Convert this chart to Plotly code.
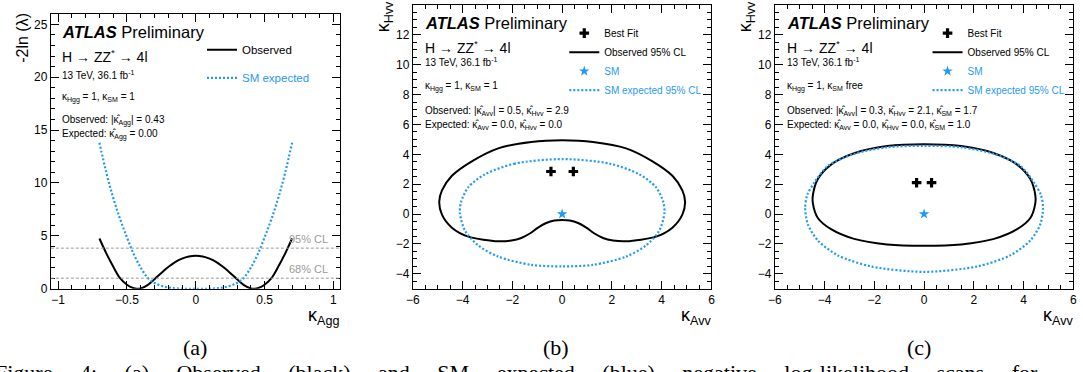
import plotly.graph_objects as go

W, H = 1083, 372
def px(x):
    return x / W
def py(y):
    return 1 - y / H

BLUE = "#1f9af5"
GREY = "#9a9a9a"
SANS = "Liberation Sans"
SERIF = "Liberation Serif"

# ---------------- data: panel (a) ----------------
kagg_obs = [-0.70, -0.65, -0.60, -0.55, -0.50, -0.45, -0.43, -0.40, -0.35, -0.30, -0.25, -0.20, -0.15, -0.10, -0.05,
            0.00, 0.05, 0.10, 0.15, 0.20, 0.25, 0.30, 0.35, 0.40, 0.43, 0.45, 0.50, 0.55, 0.60, 0.65, 0.70]
nll_obs = [4.75, 3.35, 2.10, 1.00, 0.38, 0.05, 0.00, 0.03, 0.35, 0.90, 1.50, 2.05, 2.52, 2.85, 3.05,
           3.12, 3.05, 2.85, 2.52, 2.05, 1.50, 0.90, 0.35, 0.03, 0.00, 0.05, 0.38, 1.00, 2.10, 3.35, 4.75]
kagg_exp = [-0.70, -0.65, -0.60, -0.55, -0.50, -0.45, -0.40, -0.35, -0.30, -0.25, -0.20, -0.15, -0.10, -0.05,
            0.00, 0.05, 0.10, 0.15, 0.20, 0.25, 0.30, 0.35, 0.40, 0.45, 0.50, 0.55, 0.60, 0.65, 0.70]
nll_exp = [13.8, 11.0, 8.6, 6.6, 4.85, 3.25, 2.0, 1.05, 0.55, 0.28, 0.12, 0.04, 0.01, 0.0,
           0.0, 0.0, 0.01, 0.04, 0.12, 0.28, 0.55, 1.05, 2.0, 3.25, 4.85, 6.6, 8.6, 11.0, 13.8]
cl_levels = [3.84, 1.0]
cl_labels = ["95% CL", "68% CL"]

# ---------------- data: panel (b) ----------------
b_obs_x = [0.00, -1.24, -2.57, -3.63, -4.43, -4.83, -4.94, -4.83, -4.43, -3.77, -2.57, -2.04, -1.64, -1.30,
           -0.97, -0.64, -0.31, 0.00, 0.31, 0.64, 0.97, 1.30, 1.64, 2.04, 2.57, 3.77, 4.43, 4.83, 4.94, 4.83,
           4.43, 3.63, 2.57, 1.24, 0.00]
b_obs_y = [4.94, 4.83, 4.40, 3.53, 2.56, 1.58, 0.82, -0.04, -0.91, -1.51, -1.82, -1.77, -1.60, -1.30,
           -0.91, -0.60, -0.43, -0.39, -0.43, -0.60, -0.91, -1.30, -1.60, -1.77, -1.82, -1.51, -0.91, -0.04, 0.82, 1.58,
           2.56, 3.53, 4.40, 4.83, 4.94]
b_exp_x = [0.00, -1.90, -3.10, -3.77, -4.06, -4.11, -3.90, -3.37, -2.57, -1.24, 0.00,
           1.24, 2.57, 3.37, 3.90, 4.11, 4.06, 3.77, 3.10, 1.90, 0.00]
b_exp_y = [3.68, 3.38, 2.66, 1.80, 0.82, 0.07, -1.12, -2.10, -2.85, -3.40, -3.50,
           -3.40, -2.85, -2.10, -1.12, 0.07, 0.82, 1.80, 2.66, 3.38, 3.68]
b_best_x = [-0.45, 0.45]
b_best_y = [2.85, 2.85]

# ---------------- data: panel (c) ----------------
c_obs_x = [0.00, -1.49, -2.81, -3.74, -4.27, -4.47, -4.47, -4.27, -3.74, -2.81, -1.49, 0.00,
           1.49, 2.81, 3.74, 4.27, 4.47, 4.47, 4.27, 3.74, 2.81, 1.49, 0.00]
c_obs_y = [4.68, 4.55, 4.07, 3.31, 2.34, 1.26, 0.72, -0.26, -1.01, -1.66, -2.03, -2.12,
           -2.03, -1.66, -1.01, -0.26, 0.72, 1.26, 2.34, 3.31, 4.07, 4.55, 4.68]
c_exp_x = [0.00, -1.49, -2.81, -3.88, -4.41, -4.70, -4.78, -4.67, -4.27, -3.48, -2.15, 0.00,
           2.15, 3.48, 4.27, 4.67, 4.78, 4.70, 4.41, 3.88, 2.81, 1.49, 0.00]
c_exp_y = [4.57, 4.47, 4.03, 3.21, 2.12, 1.26, 0.39, -0.69, -1.77, -2.75, -3.50, -3.87,
           -3.50, -2.75, -1.77, -0.69, 0.39, 1.26, 2.12, 3.21, 4.03, 4.47, 4.57]
c_best_x = [-0.30, 0.30]
c_best_y = [2.10, 2.10]

sm_x = [0.0]
sm_y = [0.0]


def blue_name(s):
    return "<span style='color:" + BLUE + "'>" + s + "</span>"


DOT = "2px,2px"
fig = go.Figure()

# panel (a)
fig.add_trace(go.Scatter(x=kagg_obs, y=nll_obs, mode="lines", name="Observed",
                         line=dict(color="black", width=2, shape="spline"),
                         xaxis="x", yaxis="y", legend="legend", legendgroup="a1"))
fig.add_trace(go.Scatter(x=kagg_exp, y=nll_exp, mode="lines", name=blue_name("SM expected"),
                         line=dict(color=BLUE, width=2.2, dash=DOT, shape="spline"),
                         xaxis="x", yaxis="y", legend="legend", legendgroup="a2"))

# panels (b) and (c)
for ax, lg, bx_, by_, ox, oy, ex, ey in [
    ("2", "legend2", b_best_x, b_best_y, b_obs_x, b_obs_y, b_exp_x, b_exp_y),
    ("3", "legend3", c_best_x, c_best_y, c_obs_x, c_obs_y, c_exp_x, c_exp_y),
]:
    fig.add_trace(go.Scatter(x=bx_, y=by_, mode="markers", name="Best Fit",
                             marker=dict(symbol="cross", size=8, color="black"),
                             xaxis="x" + ax, yaxis="y" + ax, legend=lg))
    fig.add_trace(go.Scatter(x=ox, y=oy, mode="lines", name="Observed 95% CL",
                             line=dict(color="black", width=2, shape="spline", smoothing=0.8),
                             xaxis="x" + ax, yaxis="y" + ax, legend=lg))
    fig.add_trace(go.Scatter(x=sm_x, y=sm_y, mode="markers", name=blue_name("SM"),
                             marker=dict(symbol="star", size=8, color=BLUE),
                             xaxis="x" + ax, yaxis="y" + ax, legend=lg))
    fig.add_trace(go.Scatter(x=ex, y=ey, mode="lines", name=blue_name("SM expected 95% CL"),
                             line=dict(color=BLUE, width=2.2, dash=DOT, shape="spline", smoothing=0.8),
                             xaxis="x" + ax, yaxis="y" + ax, legend=lg))

# CL reference lines in (a)
shapes = []
annotations = []
for lvl, lab in zip(cl_levels, cl_labels):
    shapes.append(dict(type="line", xref="x domain", yref="y", x0=0, x1=1, y0=lvl, y1=lvl,
                       line=dict(color=GREY, width=1, dash="3px,2px")))
    annotations.append(dict(text=lab, xref="x", yref="y", x=0.975, y=lvl, xanchor="right", yanchor="middle",
                            yshift=9, showarrow=False, font=dict(family=SANS, size=11, color=GREY)))


def axis(domain, rng, dtick, mdtick, anchor):
    return dict(domain=domain, range=rng, anchor=anchor, dtick=dtick, tick0=0,
                ticks="inside", ticklen=8, tickwidth=1, tickcolor="black",
                minor=dict(dtick=mdtick, ticks="inside", ticklen=4, tickwidth=1, tickcolor="black"),
                showline=True, linecolor="black", linewidth=1, mirror="allticks",
                showgrid=False, zeroline=False,
                tickfont=dict(family=SANS, size=12, color="black"))


ya_dom = [py(294.3), py(14)]
yb_dom = [py(294.3), py(5)]
fig.update_layout(
    xaxis=axis([px(44.3), px(336)], [-1.053, 1.045], 0.5, 0.1, "y"),
    yaxis=axis(ya_dom, [0, 26], 5, 1, "x"),
    xaxis2=axis([px(410), px(711.7)], [-6, 6], 2, 0.5, "y2"),
    yaxis2=axis(yb_dom, [-5, 14], 2, 0.5, "x2"),
    xaxis3=axis([px(775.7), px(1077.3)], [-6, 6], 2, 0.5, "y3"),
    yaxis3=axis(yb_dom, [-5, 14], 2, 0.5, "x3"),
)


def txt(s, x, y, size, xanchor="left", yanchor="middle", color="black", family=SANS, angle=0):
    annotations.append(dict(text=s, xref="paper", yref="paper", x=px(x), y=py(y), xanchor=xanchor,
                            yanchor=yanchor, showarrow=False, textangle=angle,
                            font=dict(family=family, size=size, color=color)))


KH = "\u03ba\u0302"
K = "\u03ba"
AR = "\u2192"

# panel (a) texts
txt("<b><i>ATLAS</i></b> Preliminary", 54, 32.3, 16.5)
txt("H " + AR + " ZZ<sup>*</sup> " + AR + " 4l", 54, 56.7, 14)
txt("13 TeV, 36.1 fb<sup>-1</sup>", 54, 76, 10)
txt(K + "<sub>Hgg</sub> = 1, " + K + "<sub>SM</sub> = 1", 54, 99, 10)
txt("Observed: |" + KH + "<sub>Agg</sub>| = 0.43", 54, 123.3, 10)
txt("Expected: " + KH + "<sub>Agg</sub> = 0.00", 54, 137.3, 10)
txt("-2ln (\u03bb)", 15.7, 39, 16, xanchor="center", angle=-90)
txt(K + "<sub>Agg</sub>", 337, 309, 18, xanchor="right", yanchor="top")

# panel (b) texts
bx = 420
txt("<b><i>ATLAS</i></b> Preliminary", bx, 23.3, 16.5)
txt("H " + AR + " ZZ<sup>*</sup> " + AR + " 4l", bx, 47.7, 14)
txt("13 TeV, 36.1 fb<sup>-1</sup>", bx, 63.3, 10)
txt(K + "<sub>Hgg</sub> = 1, " + K + "<sub>SM</sub> = 1", bx, 88.3, 10)
txt("Observed: |" + KH + "<sub>Avv</sub>| = 0.5, " + KH + "<sub>Hvv</sub> = 2.9", bx, 113.3, 10)
txt("Expected: " + KH + "<sub>Avv</sub> = 0.0, " + KH + "<sub>Hvv</sub> = 0.0", bx, 127.7, 10)
txt(K + "<sub>Hvv</sub>", 381, 17.5, 18, xanchor="center", angle=-90)
txt(K + "<sub>Avv</sub>", 713, 309, 18, xanchor="right", yanchor="top")

# panel (c) texts
cx = 786
txt("<b><i>ATLAS</i></b> Preliminary", cx, 23.3, 16.5)
txt("H " + AR + " ZZ<sup>*</sup> " + AR + " 4l", cx, 47.7, 14)
txt("13 TeV, 36.1 fb<sup>-1</sup>", cx, 63.3, 10)
txt(K + "<sub>Hgg</sub> = 1, " + K + "<sub>SM</sub> free", cx, 88.3, 10)
txt("Observed: |" + KH + "<sub>Avv</sub>| = 0.3, " + KH + "<sub>Hvv</sub> = 2.1, " + KH + "<sub>SM</sub> = 1.7",
    cx, 113.3, 10)
txt("Expected: " + KH + "<sub>Avv</sub> = 0.0, " + KH + "<sub>Hvv</sub> = 0.0, " + KH + "<sub>SM</sub> = 1.0",
    cx, 127.7, 10)
txt(K + "<sub>Hvv</sub>", 746.7, 17.5, 18, xanchor="center", angle=-90)
txt(K + "<sub>Avv</sub>", 1079, 309, 18, xanchor="right", yanchor="top")

# sub-figure captions
txt("(a)", 190, 354, 22, xanchor="center", family=SERIF)
txt("(b)", 555, 354, 22, xanchor="center", family=SERIF)
txt("(c)", 921.7, 354, 22, xanchor="center", family=SERIF)

# cut-off body text line
NB = "\u00a0"
words = ["Figure", "4:", "(a)", "Observed", "(black)", "and", "SM", "expected", "(blue)", "negative",
         "log-likelihood", "scans", "for"]
txt((NB * 5).join(words), -14, 365, 22, yanchor="top", family=SERIF)

leg_common = dict(bgcolor="rgba(0,0,0,0)", borderwidth=0, xanchor="left", yanchor="top",
                  orientation="v", itemclick=False)
fig.update_layout(
    legend=dict(x=px(197), y=py(36), font=dict(family=SANS, size=11.5, color="black"),
                tracegroupgap=9, traceorder="grouped", **leg_common),
    legend2=dict(x=px(563), y=py(19), font=dict(family=SANS, size=10, color="black"), **leg_common),
    legend3=dict(x=px(930), y=py(19), font=dict(family=SANS, size=10, color="black"), **leg_common),
)

fig.update_layout(width=W, height=H, margin=dict(l=0, r=0, t=0, b=0),
                  paper_bgcolor="white", plot_bgcolor="white", showlegend=True,
                  shapes=shapes, annotations=annotations)

fig.write_html("out.html")
